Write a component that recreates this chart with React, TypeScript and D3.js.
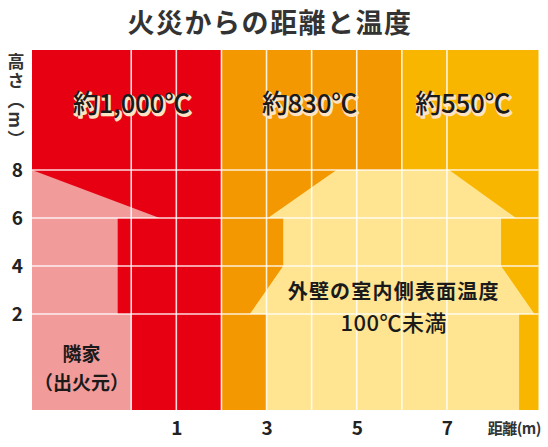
import React, { useEffect, useRef } from "react";
import * as d3 from "d3";

// distance from the fire (m) and height (m)
const xTicks = [1, 3, 5, 7];
const yTicks = [2, 4, 6, 8];
const gridX = [0, 1, 2, 3, 4, 5, 6, 7];

const bandEdges = [-2.2, 2, 6, 9.03];
const bandLabels = ["約1,000℃", "約830℃", "約550℃"];
const bandLabelX = [0, 3.95, 7.35];
const bandLabelH = 10.75;

// neighbour house (fire origin)
const houseOutline: [number, number][] = [
  [-2.2, -2], [-2.2, 8], [0.63, 6], [-0.3, 6], [-0.3, 2], [0, 2], [0, -2]
];

// inner wall surface under 100℃
const coolZone: [number, number][] = [
  [4.55, 8], [7.05, 8], [8.53, 6], [8.2, 6], [8.2, 4], [8.94, 2], [8.6, 2],
  [8.6, -2], [3, -2], [3, 2], [2.63, 2], [3.37, 4], [3.37, 6], [3.03, 6]
];

const houseLabel = ["隣家", "（出火元）"];
const houseLabelX = -1.1;
const wallLabel = ["外壁の室内側表面温度", "100℃未満"];
const wallLabelX = 5.82;

const FONT = "'Noto Sans CJK JP', 'Noto Sans', sans-serif";

export default function App() {
  const svgRef = useRef<SVGSVGElement>(null);

  useEffect(() => {
    if (!svgRef.current) return;
    const svg = d3.select(svgRef.current);
    svg.selectAll("*").remove();

    const x = d3.scaleLinear().domain([-2.2, 9.03]).range([32, 538.5]);
    const y = d3.scaleLinear().domain([-2, 13]).range([410, 50]);

    const bandColors = ["#e60012", "#f39800", "#f8b600"];

    // temperature columns
    svg.append("g")
      .selectAll("rect")
      .data(bandColors)
      .join("rect")
      .attr("x", (_, i) => x(bandEdges[i]))
      .attr("width", (_, i) => x(bandEdges[i + 1]) - x(bandEdges[i]))
      .attr("y", y(13))
      .attr("height", y(-2) - y(13))
      .attr("fill", (d) => d);

    const poly = d3.line<[number, number]>()
      .x((d) => x(d[0]))
      .y((d) => y(d[1]))
      .curve(d3.curveLinearClosed);

    svg.append("path").attr("d", poly(houseOutline)).attr("fill", "#f19b9b");
    svg.append("path").attr("d", poly(coolZone)).attr("fill", "#ffe592");

    // grid
    const grid = svg.append("g")
      .attr("stroke", "#fff")
      .attr("stroke-width", 1.6)
      .attr("stroke-opacity", 0.85);
    grid.selectAll("line.v")
      .data(gridX)
      .join("line")
      .attr("class", "v")
      .attr("x1", (d) => x(d))
      .attr("x2", (d) => x(d))
      .attr("y1", y(13))
      .attr("y2", y(-2));
    grid.selectAll("line.h")
      .data(yTicks)
      .join("line")
      .attr("class", "h")
      .attr("x1", x(-2.2))
      .attr("x2", x(9.03))
      .attr("y1", (d) => y(d))
      .attr("y2", (d) => y(d));

    // temperature labels with a pale offset shadow
    const temps = svg.append("g")
      .attr("font-family", FONT)
      .attr("font-size", 26)
      .attr("font-weight", 500)
      .attr("text-anchor", "middle")
      .attr("letter-spacing", -0.3);
    temps.selectAll("text.shadow")
      .data(bandLabels)
      .join("text")
      .attr("class", "shadow")
      .attr("x", (_, i) => x(bandLabelX[i]) + 1.5)
      .attr("y", y(bandLabelH) + 1.5)
      .attr("dy", "0.36em")
      .attr("fill", "#fde2c4")
      .attr("stroke", "#fde2c4")
      .attr("stroke-width", 2.5)
      .attr("stroke-linejoin", "round")
      .text((d) => d);
    temps.selectAll("text.main")
      .data(bandLabels)
      .join("text")
      .attr("class", "main")
      .attr("x", (_, i) => x(bandLabelX[i]))
      .attr("y", y(bandLabelH))
      .attr("dy", "0.36em")
      .attr("fill", "#1a1a1a")
      .text((d) => d);

    // wall label
    svg.append("g")
      .attr("font-family", FONT)
      .attr("fill", "#1a1a1a")
      .attr("text-anchor", "middle")
      .selectAll("text")
      .data(wallLabel)
      .join("text")
      .attr("x", x(wallLabelX))
      .attr("y", (_, i) => (i === 0 ? 299 : 331))
      .attr("font-size", (_, i) => (i === 0 ? 20 : 22))
      .attr("font-weight", (_, i) => (i === 0 ? 700 : 500))
      .attr("letter-spacing", (_, i) => (i === 0 ? 1.2 : 0.5))
      .text((d) => d);

    // house label
    svg.append("g")
      .attr("font-family", FONT)
      .attr("font-weight", 700)
      .attr("font-size", 19)
      .attr("fill", "#1a1a1a")
      .attr("text-anchor", "middle")
      .selectAll("text")
      .data(houseLabel)
      .join("text")
      .attr("x", x(houseLabelX))
      .attr("y", (_, i) => (i === 0 ? 361 : 390))
      .text((d) => d);

    // axes
    const yAxis = svg.append("g")
      .attr("transform", `translate(${x(-2.2)},0)`)
      .call(d3.axisLeft(y).tickValues(yTicks).tickSize(0).tickPadding(9).tickFormat(d3.format("d")));
    yAxis.select(".domain").remove();
    yAxis.selectAll("text")
      .attr("font-family", FONT)
      .attr("font-size", 19)
      .attr("font-weight", 700)
      .attr("fill", "#222");

    const xAxis = svg.append("g")
      .attr("transform", `translate(0,${y(-2)})`)
      .call(d3.axisBottom(x).tickValues(xTicks).tickSize(0).tickPadding(12).tickFormat(d3.format("d")));
    xAxis.select(".domain").remove();
    xAxis.selectAll("text")
      .attr("font-family", FONT)
      .attr("font-size", 19)
      .attr("font-weight", 700)
      .attr("fill", "#222");

    svg.append("text")
      .attr("x", 541)
      .attr("y", 434)
      .attr("text-anchor", "end")
      .attr("font-family", FONT)
      .attr("font-size", 15)
      .attr("font-weight", 700)
      .attr("letter-spacing", -0.5)
      .attr("fill", "#333")
      .text("距離(m)");

    svg.append("text")
      .attr("x", 16)
      .attr("y", 53)
      .attr("font-family", FONT)
      .attr("font-size", 17)
      .attr("font-weight", 700)
      .attr("fill", "#333")
      .style("writing-mode", "vertical-rl")
      .attr("letter-spacing", 2.5)
      .text("高さ（m）");

    // title
    svg.append("text")
      .attr("x", 270)
      .attr("y", 33)
      .attr("text-anchor", "middle")
      .attr("font-family", FONT)
      .attr("font-size", 27)
      .attr("font-weight", 700)
      .attr("letter-spacing", 1.5)
      .attr("fill", "#333")
      .text("火災からの距離と温度");
  }, []);

  return (
    <svg
      ref={svgRef}
      width={548}
      height={447}
      style={{ position: "absolute", left: 0, top: 0, background: "#fff" }}
    />
  );
}
